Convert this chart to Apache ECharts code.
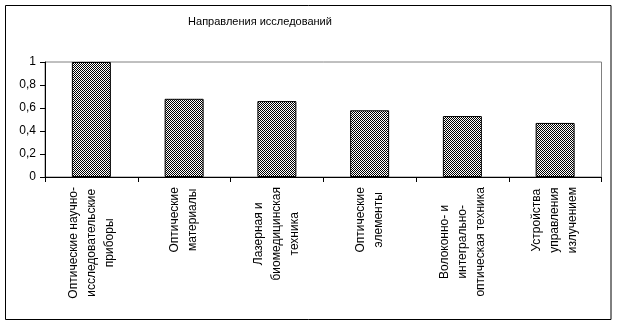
<!DOCTYPE html>
<html>
<head>
<meta charset="utf-8">
<script src="https://cdn.jsdelivr.net/npm/echarts@6/dist/echarts.min.js"></script>
<style>
  html, body { margin: 0; padding: 0; background: #fff; }
  #chart { width: 617px; height: 325px; }
</style>
</head>
<body>
<div id="chart"></div>
<script>
// Research directions and their relative weights
const titleText = 'Направления исследований';
const categories = [
  'Оптические научно-\nисследовательские\nприборы',
  'Оптические\nматериалы',
  'Лазерная и\nбиомедицинская\nтехника',
  'Оптические\nэлементы',
  'Волоконно- и\nинтегрально-\nоптическая техника',
  'Устройства\nуправления\nизлучением'
];
const values = [1, 0.68, 0.66, 0.58, 0.53, 0.47];
const yTicks = { min: 0, max: 1, interval: 0.2 };

const FONT = '"Liberation Sans", Arial, sans-serif';

// 2x2 checkerboard tile for the bar fill
function checkerTile() {
  const c = document.createElement('canvas');
  c.width = 2; c.height = 2;
  const g = c.getContext('2d');
  g.fillStyle = '#ffffff';
  g.fillRect(0, 0, 2, 2);
  g.fillStyle = '#000000';
  g.fillRect(0, 0, 1, 1);
  g.fillRect(1, 1, 1, 1);
  return c;
}

const chart = echarts.init(document.getElementById('chart'), null, { renderer: 'canvas' });

chart.setOption({
  animation: false,
  backgroundColor: '#ffffff',
  grid: {
    left: 45, right: 15.5, top: 62, bottom: 148,
    show: true, borderColor: '#808080', borderWidth: 1, backgroundColor: 'transparent'
  },
  graphic: [
    {
      type: 'rect', silent: true, z: 100,
      shape: { x: 5.5, y: 5.5, width: 605.5, height: 314 },
      style: { fill: 'none', stroke: '#000', lineWidth: 1 }
    },
    {
      type: 'text', silent: true,
      x: 260, y: 22,
      style: {
        text: titleText, font: '11px ' + FONT, fill: '#000',
        align: 'center', verticalAlign: 'middle'
      }
    }
  ],
  xAxis: {
    type: 'category',
    data: categories,
    axisLine: { lineStyle: { color: '#000', width: 1 } },
    axisTick: { show: true, length: 5, lineStyle: { color: '#000' } },
    axisLabel: {
      rotate: 90,
      interval: 0,
      margin: 10,
      color: '#000',
      formatter: function (v) {
        return v.split('\n').map(function (s) { return '{c|' + s + '}'; }).join('\n');
      },
      rich: {
        c: { align: 'center', fontFamily: FONT, fontSize: 12, lineHeight: 18, color: '#000' }
      }
    },
    splitLine: { show: false }
  },
  yAxis: {
    type: 'value',
    min: yTicks.min, max: yTicks.max, interval: yTicks.interval,
    axisLine: { show: true, lineStyle: { color: '#000', width: 1 } },
    axisTick: { show: true, length: 5, lineStyle: { color: '#000' } },
    axisLabel: {
      margin: 9, color: '#000', fontFamily: FONT, fontSize: 12,
      formatter: function (v) { return String(Math.round(v * 10) / 10).replace('.', ','); }
    },
    splitLine: { show: false }
  },
  series: [{
    type: 'bar',
    data: values,
    barWidth: 39,
    itemStyle: {
      color: { image: checkerTile(), repeat: 'repeat' },
      borderColor: '#000',
      borderWidth: 1
    }
  }]
});
</script>
</body>
</html>
